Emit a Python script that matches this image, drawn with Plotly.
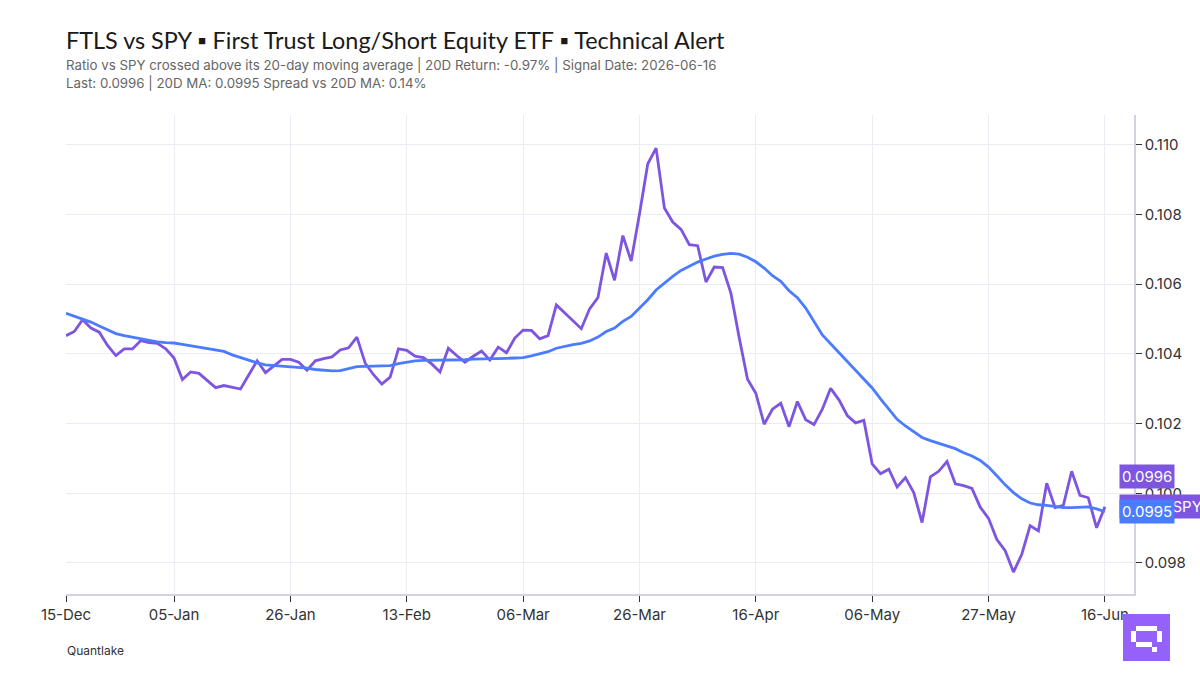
import plotly.graph_objects as go

WIDTH, HEIGHT = 1200, 675
LEFT, RIGHT, TOP, BOTTOM = 66, 1134, 115, 594
FONT = "Inter"
TITLE_FONT = "Lato"

TITLE = "FTLS vs SPY ▪ First Trust Long/Short Equity ETF ▪ Technical Alert"
SUBTITLE_1 = "Ratio vs SPY crossed above its 20-day moving average | 20D Return: -0.97% | Signal Date: 2026-06-16"
SUBTITLE_2 = "Last: 0.0996 | 20D MA: 0.0995 Spread vs 20D MA: 0.14%"
SOURCE = "Quantlake"

PURPLE = "#7d55e0"
BLUE = "#4b7bff"
LOGO = "#9461fb"

# Trading sessions, grouped by month
dec = ["15", "16", "17", "18", "19", "22", "23", "24", "26", "29", "30", "31"]
jan = ["02", "05", "06", "07", "08", "09", "12", "13", "14", "15", "16", "20", "21", "22", "23", "26", "27", "28", "29", "30"]
feb = ["02", "03", "04", "05", "06", "09", "10", "11", "12", "13", "17", "18", "19", "20", "23", "24", "25", "26", "27"]
mar = ["02", "03", "04", "05", "06", "09", "10", "11", "12", "13", "16", "17", "18", "19", "20", "23", "24", "25", "26", "27", "30", "31"]
apr = ["01", "02", "06", "07", "08", "09", "10", "13", "14", "15", "16", "17", "20", "21", "22", "23", "24", "27", "28", "29", "30"]
may = ["01", "04", "05", "06", "07", "08", "11", "12", "13", "14", "15", "18", "19", "20", "21", "22", "26", "27", "28", "29"]
jun = ["01", "02", "03", "04", "05", "08", "09", "10", "11", "12", "15", "16"]
months = [("Dec", dec), ("Jan", jan), ("Feb", feb), ("Mar", mar), ("Apr", apr), ("May", may), ("Jun", jun)]
dates = [f"{d}-{name}" for name, days in months for d in days]

tick_dates = ["15-Dec", "05-Jan", "26-Jan", "13-Feb", "06-Mar", "26-Mar", "16-Apr", "06-May", "27-May", "16-Jun"]
price_ticks = [0.098, 0.100, 0.102, 0.104, 0.106, 0.108, 0.110]

ratio = [
    0.10452, 0.10464, 0.10498, 0.10474, 0.10462, 0.10424, 0.10395, 0.10414, 0.10414, 0.10438,
    0.10432, 0.10430, 0.10414, 0.10388, 0.10326, 0.10348, 0.10344, 0.10323, 0.10303, 0.10309,
    0.10305, 0.10299, 0.10340, 0.10380, 0.10346, 0.10365, 0.10384, 0.10384, 0.10376, 0.10353,
    0.10380, 0.10386, 0.10391, 0.10411, 0.10417, 0.10448, 0.10373, 0.10340, 0.10313, 0.10333,
    0.10414, 0.10410, 0.10393, 0.10389, 0.10371, 0.10348, 0.10416, 0.10395, 0.10376, 0.10393,
    0.10408, 0.10382, 0.10419, 0.10403, 0.10445, 0.10468, 0.10467, 0.10443, 0.10452, 0.10540,
    0.10517, 0.10495, 0.10472, 0.10529, 0.10561, 0.10689, 0.10611, 0.10739, 0.10666, 0.10801,
    0.10945, 0.10990, 0.10818, 0.10778, 0.10757, 0.10713, 0.10710, 0.10606, 0.10649, 0.10647,
    0.10574, 0.10446, 0.10327, 0.10287, 0.10198, 0.10241, 0.10258, 0.10191, 0.10263, 0.10211,
    0.10197, 0.10241, 0.10301, 0.10268, 0.10223, 0.10202, 0.10209, 0.10084, 0.10056, 0.10069,
    0.10018, 0.10045, 0.10002, 0.09916, 0.10047, 0.10063, 0.10091, 0.10027, 0.10022, 0.10014,
    0.09960, 0.09928, 0.09867, 0.09835, 0.09774, 0.09825, 0.09907, 0.09892, 0.10029, 0.09959,
    0.09965, 0.10063, 0.09994, 0.09987, 0.09901, 0.09961,
]

ma20 = [
    0.10516, 0.10508, 0.10500, 0.10491, 0.10480, 0.10468, 0.10458, 0.10452, 0.10447, 0.10444,
    0.10438, 0.10434, 0.10432, 0.10431, 0.10427, 0.10423, 0.10418, 0.10414, 0.10411, 0.10407,
    0.10397, 0.10389, 0.10381, 0.10374, 0.10368, 0.10366, 0.10365, 0.10364, 0.10362, 0.10359,
    0.10355, 0.10352, 0.10351, 0.10352, 0.10358, 0.10363, 0.10364, 0.10365, 0.10365, 0.10366,
    0.10372, 0.10377, 0.10380, 0.10381, 0.10381, 0.10381, 0.10382, 0.10382, 0.10383, 0.10385,
    0.10385, 0.10386, 0.10386, 0.10387, 0.10388, 0.10389, 0.10394, 0.10399, 0.10406, 0.10416,
    0.10422, 0.10426, 0.10430, 0.10437, 0.10448, 0.10464, 0.10474, 0.10493, 0.10507, 0.10531,
    0.10555, 0.10583, 0.10603, 0.10622, 0.10639, 0.10652, 0.10663, 0.10672, 0.10680, 0.10685,
    0.10688, 0.10686, 0.10677, 0.10664, 0.10646, 0.10624, 0.10608, 0.10581, 0.10561, 0.10531,
    0.10493, 0.10454, 0.10429, 0.10404, 0.10377, 0.10352, 0.10327, 0.10302, 0.10271, 0.10241,
    0.10212, 0.10193, 0.10176, 0.10160, 0.10151, 0.10144, 0.10135, 0.10128, 0.10116, 0.10107,
    0.10094, 0.10075, 0.10050, 0.10024, 0.10002, 0.09984, 0.09972, 0.09967, 0.09965, 0.09961,
    0.09959, 0.09959, 0.09959, 0.09961, 0.09955, 0.09947,
]


def px_x(x):
    return (x - LEFT) / (RIGHT - LEFT)


def px_y(y):
    return (BOTTOM - y) / (BOTTOM - TOP)


def caption(text, x, y, size, color, family=FONT):
    return dict(text=text, x=px_x(x - 2), y=px_y(y), xref="paper", yref="paper", xanchor="left", yanchor="middle",
                showarrow=False, align="left", font=dict(family=family, size=size, color=color))


def end_tag(text, value, bg, yshift=0):
    return dict(text=text, x=px_x(1119), y=value, xref="paper", yref="y", xanchor="left", yanchor="middle",
                yshift=yshift, showarrow=False, bgcolor=bg, borderpad=2,
                font=dict(family=FONT, size=15, color="#ffffff"))


def logo_rect(x0, y0, x1, y1, color):
    return dict(type="rect", xref="paper", yref="paper", x0=px_x(x0), x1=px_x(x1), y0=px_y(y0), y1=px_y(y1),
                fillcolor=color, line=dict(width=0), layer="above")


fig = go.Figure()
fig.add_trace(go.Scatter(x=dates, y=ratio, mode="lines", name="FTLS / SPY",
                         line=dict(color=PURPLE, width=2.8), hoverinfo="skip"))
fig.add_trace(go.Scatter(x=dates, y=ma20, mode="lines", name="20D MA",
                         line=dict(color=BLUE, width=2.8), hoverinfo="skip"))

fig.update_layout(
    width=WIDTH, height=HEIGHT, autosize=False,
    paper_bgcolor="#ffffff", plot_bgcolor="#ffffff",
    showlegend=False,
    margin=dict(l=LEFT, r=WIDTH - RIGHT, t=TOP, b=HEIGHT - BOTTOM, pad=0),
    font=dict(family=FONT, color="#222222"),
    xaxis=dict(type="category", categoryorder="array", categoryarray=dates, range=[0, 128.5],
               tickmode="array", tickvals=tick_dates, ticktext=tick_dates,
               showgrid=True, gridcolor="#ebebf3", gridwidth=1, zeroline=False,
               showline=True, linecolor="#d2d2e4", linewidth=1.5,
               ticks="outside", ticklen=6, tickcolor="#333333", tickangle=0,
               tickfont=dict(family=FONT, size=15, color="#333333")),
    yaxis=dict(side="right", range=[0.09711, 0.11085], tickmode="array", tickvals=price_ticks,
               tickformat=".3f", showgrid=True, gridcolor="#ebebf3", gridwidth=1, zeroline=False,
               showline=True, linecolor="#d2d2e4", linewidth=1.5,
               ticks="outside", ticklen=6, tickcolor="#333333",
               tickfont=dict(family=FONT, size=15, color="#333333")),
    annotations=[
        caption(TITLE, 66, 40, 23.4, "#1a1a1a", TITLE_FONT),
        caption(SUBTITLE_1, 66, 65.5, 13.3, "#666666"),
        caption(SUBTITLE_2, 66, 82.5, 13.3, "#666666"),
        caption(SOURCE, 67, 650, 12, "#333333"),
        end_tag("FTLS / SPY", ratio[-1], PURPLE),
        end_tag(f"{ratio[-1]:.4f}", ratio[-1], PURPLE, yshift=30),
        end_tag(f"{ma20[-1]:.4f}", ma20[-1], BLUE),
    ],
    shapes=[
        logo_rect(1123, 614, 1170, 661, LOGO),
        logo_rect(1136, 626, 1157, 631, "#ffffff"),
        logo_rect(1131, 631, 1136, 642, "#ffffff"),
        logo_rect(1157, 631, 1162, 642, "#ffffff"),
        logo_rect(1136, 642, 1152, 647, "#ffffff"),
        logo_rect(1152, 647, 1157, 652, "#ffffff"),
    ],
)

fig.write_html("out.html", config=dict(displayModeBar=False))
